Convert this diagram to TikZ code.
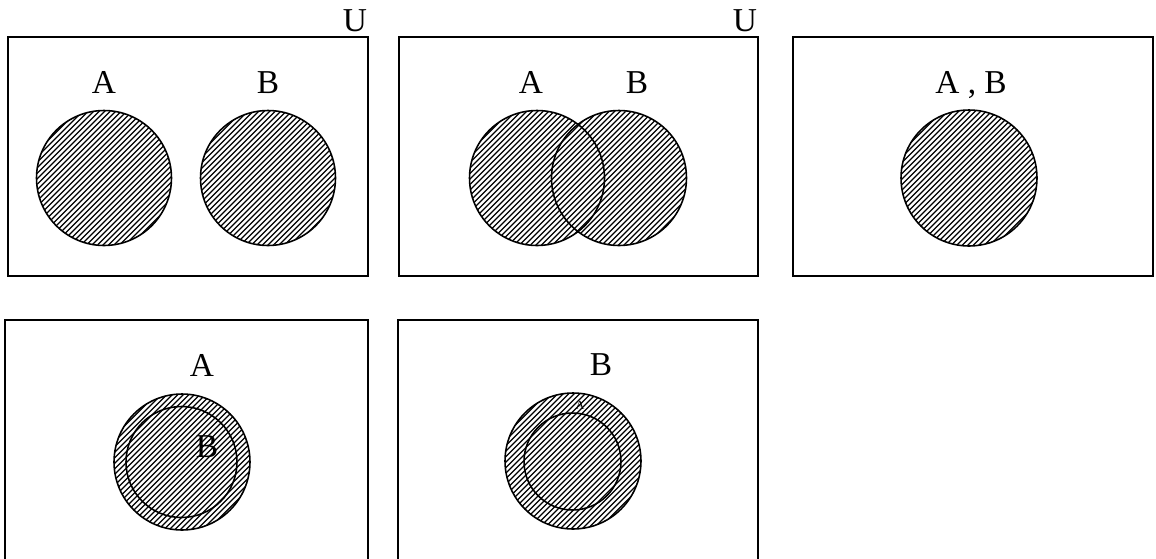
\documentclass[tikz,border=0pt]{standalone}
\usepackage{fontspec}
\setmainfont{Liberation Serif}
\usetikzlibrary{calc}

\begin{document}
\begin{tikzpicture}[x=0.02cm, y=-0.02cm,
  universe/.style={draw, line width=1pt},
  setc/.style={circle, draw, line width=0.9pt, inner sep=0pt},
  hatch/.style={line width=0.65pt},
  lab/.style={font=\fontsize{19}{21}\selectfont, inner sep=0pt, anchor=base},
  tinylab/.style={font=\fontsize{7}{8}\selectfont, inner sep=0pt, anchor=base}]
  \useasboundingbox (0,0) rectangle (1156,558);
  % top row
  \draw[universe] (8,37) rectangle (368,276);
  \draw[universe] (399,37) rectangle (758,276);
  \draw[universe] (793,37) rectangle (1153,276);
  \node[lab] (u1) at (355,31) {U};
  \node[lab] (u2) at (745,31) {U};
  % disjoint
  \node[setc, minimum size=2.7cm] (a1) at (104,178) {};
  \node[setc, minimum size=2.7cm] (b1) at (268,178) {};
  \node[lab] (la1) at (104,93) {A};
  \node[lab] (lb1) at (268,93) {B};
  \begin{scope}
    \clip (a1.center) circle[radius=67] (b1.center) circle[radius=67];
    \foreach \k in {-20,...,50}
      \draw[hatch] ($(a1.center)+(\k*5.5-100,100)$) -- ++(200,-200);
  \end{scope}
  % overlapping
  \node[setc, minimum size=2.7cm] (a2) at (537,178) {};
  \node[setc, minimum size=2.7cm] (b2) at (619,178) {};
  \node[lab] (la2) at (531,93) {A};
  \node[lab] (lb2) at (637,93) {B};
  \begin{scope}
    \clip (a2.center) circle[radius=67] (b2.center) circle[radius=67];
    \foreach \k in {-20,...,36}
      \draw[hatch] ($(a2.center)+(\k*5.5-100,100)$) -- ++(200,-200);
  \end{scope}
  % equal
  \node[setc, minimum size=2.72cm] (ab3) at (969,178) {};
  \node[lab] (lab3) at (971,93) {A , B};
  \begin{scope}
    \clip (ab3.center) circle[radius=68];
    \foreach \k in {-20,...,20}
      \draw[hatch] ($(ab3.center)+(\k*5.5-100,100)$) -- ++(200,-200);
  \end{scope}
  % bottom row
  \draw[universe] (5,560) -- (5,320) -- (368,320) -- (368,560);
  \draw[universe] (398,560) -- (398,320) -- (758,320) -- (758,560);
  % B inside A
  \node[setc, minimum size=2.72cm] (a4) at (182,462) {};
  \node[setc, minimum size=2.22cm] (b4) at (181.5,462) {};
  \begin{scope}
    \clip (a4.center) circle[radius=68];
    \foreach \k in {-20,...,20}
      \draw[hatch] ($(a4.center)+(\k*5.5-100,100)$) -- ++(200,-200);
  \end{scope}
  \node[lab] (la4) at (202,376) {A};
  \node[lab] (lb4) at (207,457) {B};
  % A inside B
  \node[setc, minimum size=2.72cm] (b5) at (573,461) {};
  \node[setc, minimum size=1.94cm] (a5) at (572.5,461.5) {};
  \begin{scope}
    \clip (b5.center) circle[radius=68];
    \foreach \k in {-20,...,20}
      \draw[hatch] ($(b5.center)+(\k*5.5-100,100)$) -- ++(200,-200);
  \end{scope}
  \node[lab] (lb5) at (601,375) {B};
  \node[tinylab] (la5) at (580,409) {A};
\end{tikzpicture}
\end{document}
